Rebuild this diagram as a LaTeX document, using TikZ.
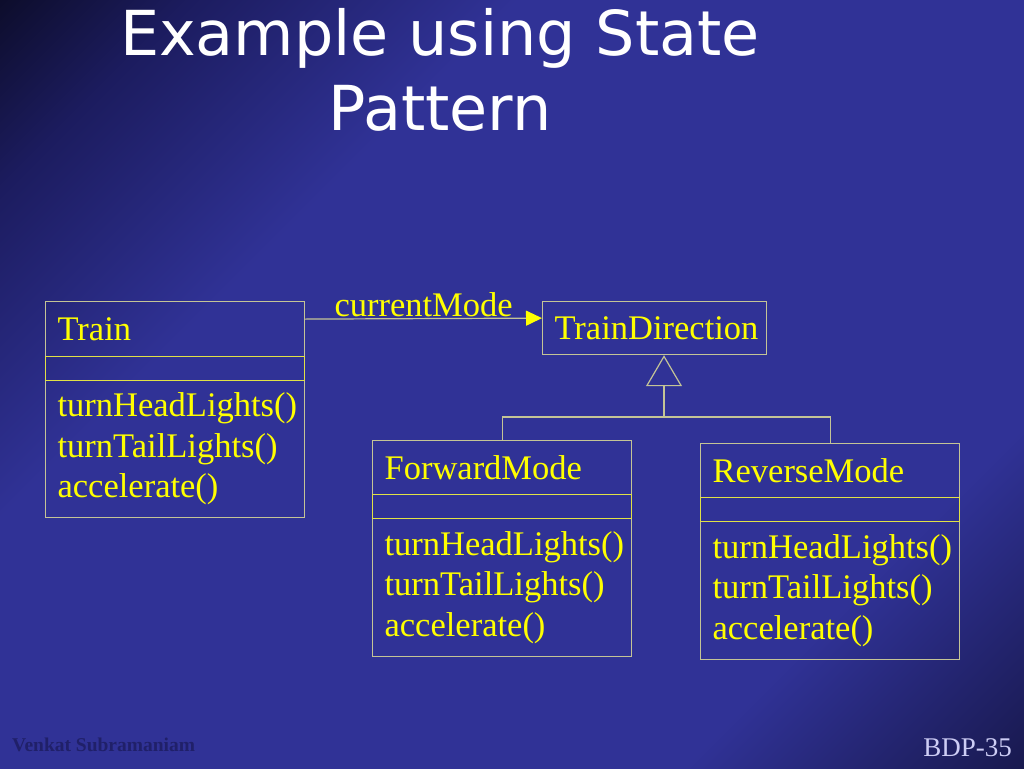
\documentclass[tikz,border=0pt]{standalone}
\usepackage{fontspec}
\setmainfont{Liberation Serif}
\newfontfamily\titlefont{DejaVu Sans}
\usetikzlibrary{arrows.meta}

\definecolor{bgblack}{RGB}{6,6,20}
\definecolor{bgdark}{RGB}{28,28,95}
\definecolor{bgblue}{RGB}{48,50,150}
\definecolor{bgcorner}{RGB}{15,15,50}
\definecolor{umltext}{RGB}{255,255,0}
\definecolor{umlframe}{RGB}{196,196,150}
\definecolor{umlrule}{RGB}{225,225,70}
\definecolor{slidenum}{RGB}{205,205,245}
\definecolor{footer}{RGB}{32,32,105}
\pgfdeclarehorizontalshading{slidebg}{100bp}{color(0bp)=(bgblack); color(11bp)=(bgblack); color(22bp)=(bgdark); color(35bp)=(bgblue); color(72bp)=(bgblue); color(91bp)=(bgcorner); color(100bp)=(bgcorner)}

\begin{document}
\begin{tikzpicture}[x=1pt, y=-1pt,
    umlfont/.style={font=\fontsize{34.5}{40.5}\selectfont},
    classname/.style={draw=umlframe, line width=1.2pt, anchor=north west, umlfont, text=umltext,
        minimum width=259pt, text width=235pt, align=left, inner xsep=12pt, inner ysep=0pt, minimum height=55pt},
    classattr/.style={draw=umlrule, line width=1.2pt, anchor=north west, minimum width=259pt, minimum height=24pt, inner sep=0pt},
    classops/.style={classname, minimum height=137pt}]
        \useasboundingbox (0,0) rectangle (1024,768);
        \shade [shading=slidebg, shading angle=-45] (0,0) rectangle (1024,768);

        \node [font=\titlefont\fontsize{62}{75}\selectfont, text=white, align=center, anchor=base] (title) at (440,130) {Example using State\\Pattern};

        \node [classname] (train) at (45,301) {Train};
        \node [classops] (trainops) at (45,380) {turnHeadLights()\\turnTailLights()\\accelerate()};
        \node [classattr] (trainattr) at (45,356) {};

        \node [classname, minimum width=224pt, text width=200pt, minimum height=53pt] (dir) at (542,301) {TrainDirection};

        \node [classname, minimum height=54pt] (fwd) at (372,440) {ForwardMode};
        \node [classops, minimum height=138pt] (fwdops) at (372,518) {turnHeadLights()\\turnTailLights()\\accelerate()};
        \node [classattr] (fwdattr) at (372,494) {};

        \node [classname, minimum height=54pt] (rev) at (700,443) {ReverseMode};
        \node [classops, minimum height=138pt] (revops) at (700,521) {turnHeadLights()\\turnTailLights()\\accelerate()};
        \node [classattr] (revattr) at (700,497) {};

        \draw [umlframe, line width=1.2pt, -{Triangle[length=16pt, width=15pt, color=umltext]}] ([yshift=10pt]train.east) -- node[above, inner sep=1pt, text=umltext, umlfont] (role) {currentMode} ([yshift=10pt]dir.west);

        \coordinate (split) at (664,417);
        \draw [umlframe, line width=1.2pt, -{Triangle[open, length=31pt, width=36pt]}] (fwd.north) |- (split) -- (split |- dir.south);
        \draw [umlframe, line width=1.2pt] (rev.north) |- (split);

        \node [font=\bfseries\fontsize{19.5}{20}\selectfont, text=footer, anchor=base west, inner sep=0pt] (author) at (12,751) {Venkat Subramaniam};
        \node [font=\fontsize{27}{30}\selectfont, text=slidenum, anchor=base east, inner sep=0pt] (slideno) at (1012,756) {BDP-35};
    \end{tikzpicture}
\end{document}
